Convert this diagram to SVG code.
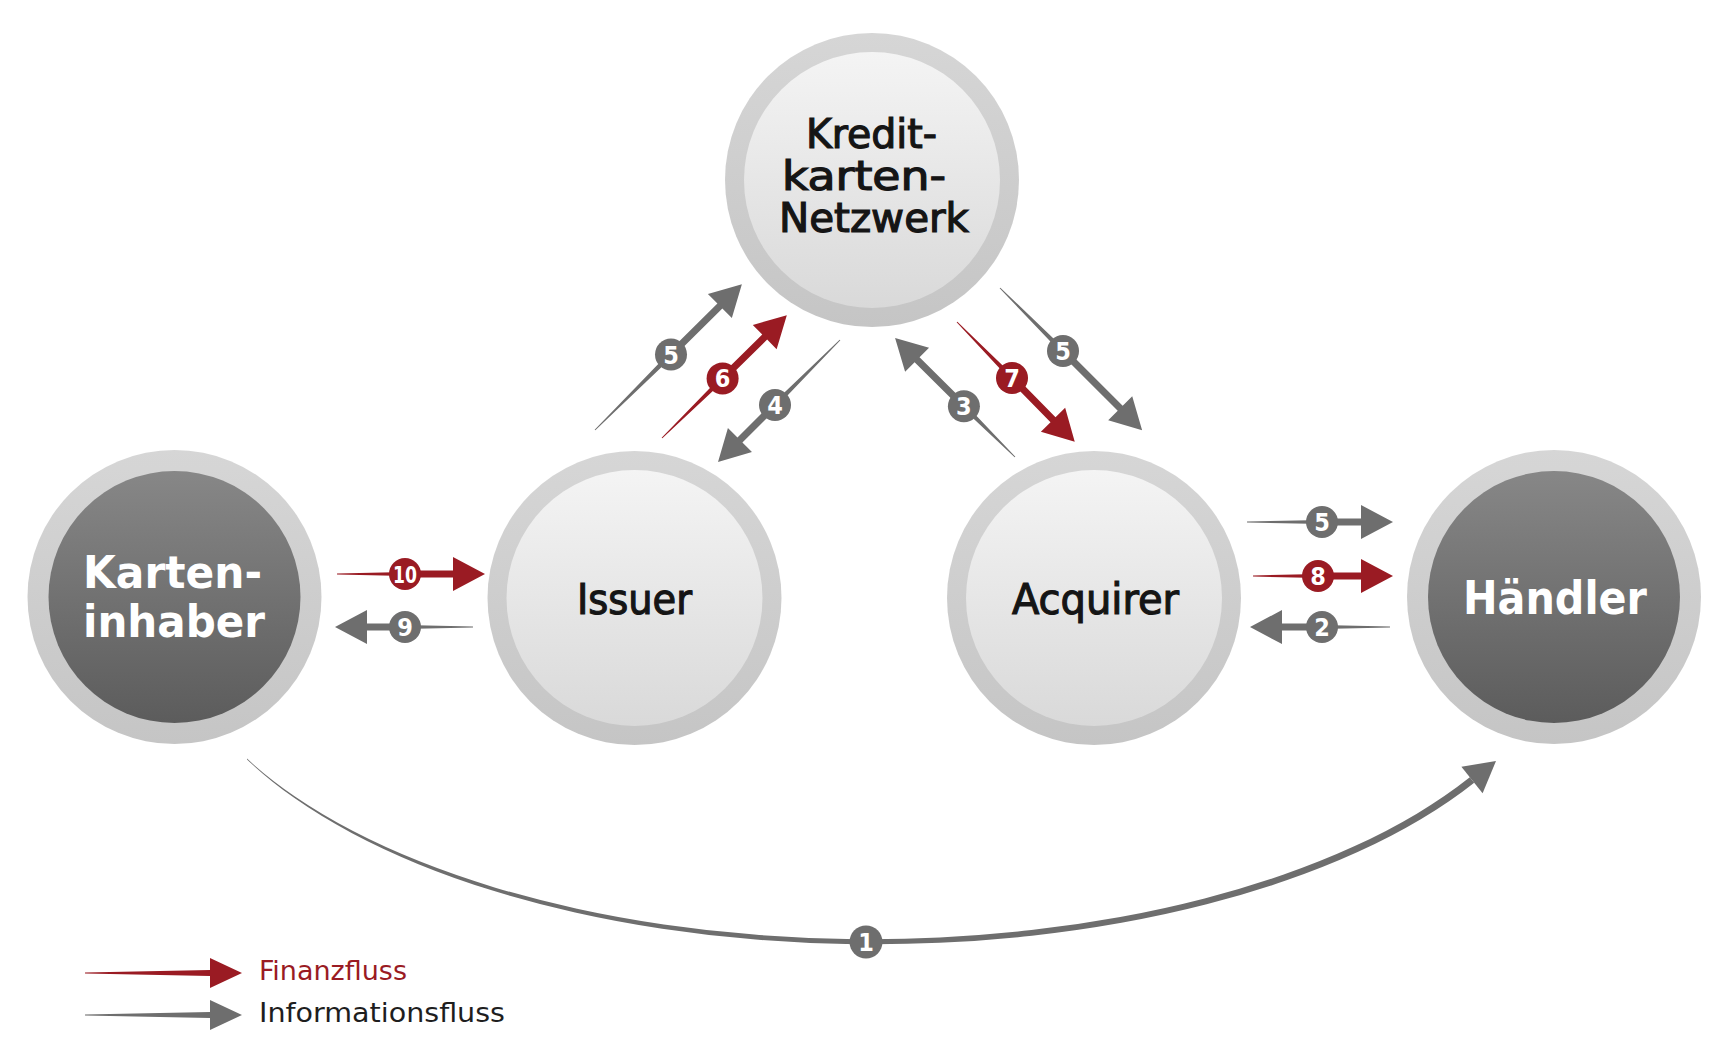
<svg xmlns="http://www.w3.org/2000/svg" width="1724" height="1064" viewBox="0 0 1724 1064">
<defs>
  <linearGradient id="ring" x1="0" y1="0" x2="0" y2="1">
    <stop offset="0" stop-color="#d6d6d6"/>
    <stop offset="1" stop-color="#c5c5c5"/>
  </linearGradient>
  <linearGradient id="light" x1="0" y1="0" x2="0" y2="1">
    <stop offset="0" stop-color="#f4f4f4"/>
    <stop offset="1" stop-color="#d9d9d9"/>
  </linearGradient>
  <linearGradient id="dark" x1="0" y1="0" x2="0" y2="1">
    <stop offset="0" stop-color="#878787"/>
    <stop offset="1" stop-color="#5c5c5c"/>
  </linearGradient>
</defs>
<style>
  .ring { fill: url(#ring); }
  .light { fill: url(#light); }
  .dark { fill: url(#dark); }
  .lbl { font-family: "DejaVu Sans Condensed", "DejaVu Sans", "Liberation Sans", sans-serif; }
  .lbl-d { fill: #151515; stroke: #151515; stroke-width: 1.1px; font-size: 42px; font-weight: normal; }
  .lbl-n { font-size: 40px; }
  .lbl-w { fill: #ffffff; font-size: 47px; font-weight: bold; }
  .lbl-k { font-size: 45px; }
  .info { fill: #6e6e6e; }
  .fin { fill: #9a1b23; }
  .num { font-family: "DejaVu Sans Condensed", "DejaVu Sans", "Liberation Sans", sans-serif; font-weight: bold; font-size: 25px; fill: #ffffff; text-anchor: middle; }
  .leg { font-family: "DejaVu Sans Condensed", "DejaVu Sans", "Liberation Sans", sans-serif; font-size: 27px; }
</style>
<rect width="1724" height="1064" fill="#ffffff"/>

<g id="node-netzwerk">
  <circle class="ring" cx="872" cy="180" r="147"/>
  <circle class="light" cx="872" cy="180" r="128"/>
  <text class="lbl lbl-d lbl-n" x="806" y="148" textLength="131" lengthAdjust="spacingAndGlyphs">Kredit-</text>
  <text class="lbl lbl-d lbl-n" x="782" y="190" textLength="164" lengthAdjust="spacingAndGlyphs">karten-</text>
  <text class="lbl lbl-d lbl-n" x="779" y="232" textLength="190" lengthAdjust="spacingAndGlyphs">Netzwerk</text>
</g>
<g id="node-karteninhaber">
  <circle class="ring" cx="174.5" cy="597" r="147"/>
  <circle class="dark" cx="174.5" cy="597" r="126"/>
  <text class="lbl lbl-w lbl-k" x="83" y="588" textLength="179" lengthAdjust="spacingAndGlyphs">Karten-</text>
  <text class="lbl lbl-w lbl-k" x="83" y="637" textLength="182" lengthAdjust="spacingAndGlyphs">inhaber</text>
</g>
<g id="node-issuer">
  <circle class="ring" cx="634.5" cy="598" r="147"/>
  <circle class="light" cx="634.5" cy="598" r="128"/>
  <text class="lbl lbl-d" x="577" y="614" textLength="115" lengthAdjust="spacingAndGlyphs">Issuer</text>
</g>
<g id="node-acquirer">
  <circle class="ring" cx="1094" cy="598" r="147"/>
  <circle class="light" cx="1094" cy="598" r="128"/>
  <text class="lbl lbl-d" x="1012" y="614" textLength="167" lengthAdjust="spacingAndGlyphs">Acquirer</text>
</g>
<g id="node-haendler">
  <circle class="ring" cx="1554" cy="597" r="147"/>
  <circle class="dark" cx="1554" cy="597" r="126"/>
  <text class="lbl lbl-w" x="1463" y="614" textLength="184" lengthAdjust="spacingAndGlyphs">Händler</text>
</g>

<g id="connectors">
  <g id="c1">
    <path class="info" d="M247,758.6 A700,333 0 0,0 1469.8,777.3 L1474.2,782.7 A700,333 0 0,1 247,759.4 Z"/>
    <path class="info" d="M1496,761 L1461.4,766.7 L1482.6,793.3 Z"/>
    <circle class="info" cx="866" cy="942" r="16.5"/>
    <text class="num" x="866" y="951">1</text>
  </g>
  <g id="c5a">
    <path class="info" transform="translate(595,430) rotate(-44.8)" d="M0,-0.5 L107,-2.5 L107,-3.5 L176,-3.5 L176,-17 L207,0 L176,17 L176,3.5 L107,3.5 L107,2.5 L0,0.5 Z"/>
    <circle class="info" cx="671" cy="354.5" r="16"/>
    <text class="num" x="671" y="363.5">5</text>
  </g>
  <g id="c6">
    <path class="fin" transform="translate(662,438) rotate(-44.5)" d="M0,-0.5 L85,-2.5 L85,-3.5 L144,-3.5 L144,-17 L175,0 L144,17 L144,3.5 L85,3.5 L85,2.5 L0,0.5 Z"/>
    <circle class="fin" cx="722.6" cy="378.4" r="16"/>
    <text class="num" x="722.6" y="387.4">6</text>
  </g>
  <g id="c4">
    <path class="info" transform="translate(840,340) rotate(135)" d="M0,-0.5 L92,-2.5 L92,-3.5 L141.5,-3.5 L141.5,-17 L172.5,0 L141.5,17 L141.5,3.5 L92,3.5 L92,2.5 L0,0.5 Z"/>
    <circle class="info" cx="775" cy="405" r="16"/>
    <text class="num" x="775" y="414">4</text>
  </g>
  <g id="c3">
    <path class="info" transform="translate(1015,457) rotate(-135.2)" d="M0,-0.5 L72,-2.5 L72,-3.5 L138,-3.5 L138,-17 L169,0 L138,17 L138,3.5 L72,3.5 L72,2.5 L0,0.5 Z"/>
    <circle class="info" cx="963.9" cy="406.3" r="16"/>
    <text class="num" x="963.9" y="415.3">3</text>
  </g>
  <g id="c7">
    <path class="fin" transform="translate(957,322) rotate(45.5)" d="M0,-0.5 L78.5,-2.5 L78.5,-3.5 L137,-3.5 L137,-17 L168,0 L137,17 L137,3.5 L78.5,3.5 L78.5,2.5 L0,0.5 Z"/>
    <circle class="fin" cx="1012" cy="378" r="16"/>
    <text class="num" x="1012" y="387">7</text>
  </g>
  <g id="c5b">
    <path class="info" transform="translate(1000,288) rotate(45)" d="M0,-0.5 L89,-2.5 L89,-3.5 L170,-3.5 L170,-17 L201,0 L170,17 L170,3.5 L89,3.5 L89,2.5 L0,0.5 Z"/>
    <circle class="info" cx="1063" cy="351" r="16"/>
    <text class="num" x="1063" y="360">5</text>
  </g>
  <g id="c10">
    <path class="fin" transform="translate(337,574)" d="M0,-0.5 L68,-2 L68,-3.5 L116,-3.5 L116,-17 L148,0 L116,17 L116,3.5 L68,3.5 L68,2 L0,0.5 Z"/>
    <circle class="fin" cx="405" cy="574" r="16"/>
    <text class="num" x="405" y="582.5" style="font-size:23px" textLength="24" lengthAdjust="spacingAndGlyphs">10</text>
  </g>
  <g id="c9">
    <path class="info" transform="translate(473,627) rotate(180)" d="M0,-0.5 L68,-2 L68,-3.5 L106,-3.5 L106,-17 L138,0 L106,17 L106,3.5 L68,3.5 L68,2 L0,0.5 Z"/>
    <circle class="info" cx="405" cy="627" r="16"/>
    <text class="num" x="405" y="636">9</text>
  </g>
  <g id="c5c">
    <path class="info" transform="translate(1247,522)" d="M0,-0.5 L75,-2 L75,-3.5 L114,-3.5 L114,-17 L146,0 L114,17 L114,3.5 L75,3.5 L75,2 L0,0.5 Z"/>
    <circle class="info" cx="1322" cy="522" r="16"/>
    <text class="num" x="1322" y="531">5</text>
  </g>
  <g id="c8">
    <path class="fin" transform="translate(1253,576)" d="M0,-0.5 L65,-2 L65,-3.5 L108,-3.5 L108,-17 L140,0 L108,17 L108,3.5 L65,3.5 L65,2 L0,0.5 Z"/>
    <circle class="fin" cx="1318" cy="576" r="16"/>
    <text class="num" x="1318" y="585">8</text>
  </g>
  <g id="c2">
    <path class="info" transform="translate(1390,627) rotate(180)" d="M0,-0.5 L68,-2 L68,-3.5 L108,-3.5 L108,-17 L140,0 L108,17 L108,3.5 L68,3.5 L68,2 L0,0.5 Z"/>
    <circle class="info" cx="1322" cy="627" r="16"/>
    <text class="num" x="1322" y="636">2</text>
  </g>
</g>

<g id="legend">
  <path class="fin" d="M85,972.5 L210,970 L210,958 L242,973 L210,988 L210,976 L85,973.5 Z"/>
  <path class="info" d="M85,1014.5 L210,1012 L210,1000 L242,1015 L210,1030 L210,1018 L85,1015.5 Z"/>
  <text class="leg" x="259" y="980" fill="#9a1b23" textLength="148" lengthAdjust="spacingAndGlyphs">Finanzfluss</text>
  <text class="leg" x="259" y="1022" fill="#1e1e1e" textLength="246" lengthAdjust="spacingAndGlyphs">Informationsfluss</text>
</g>
</svg>
